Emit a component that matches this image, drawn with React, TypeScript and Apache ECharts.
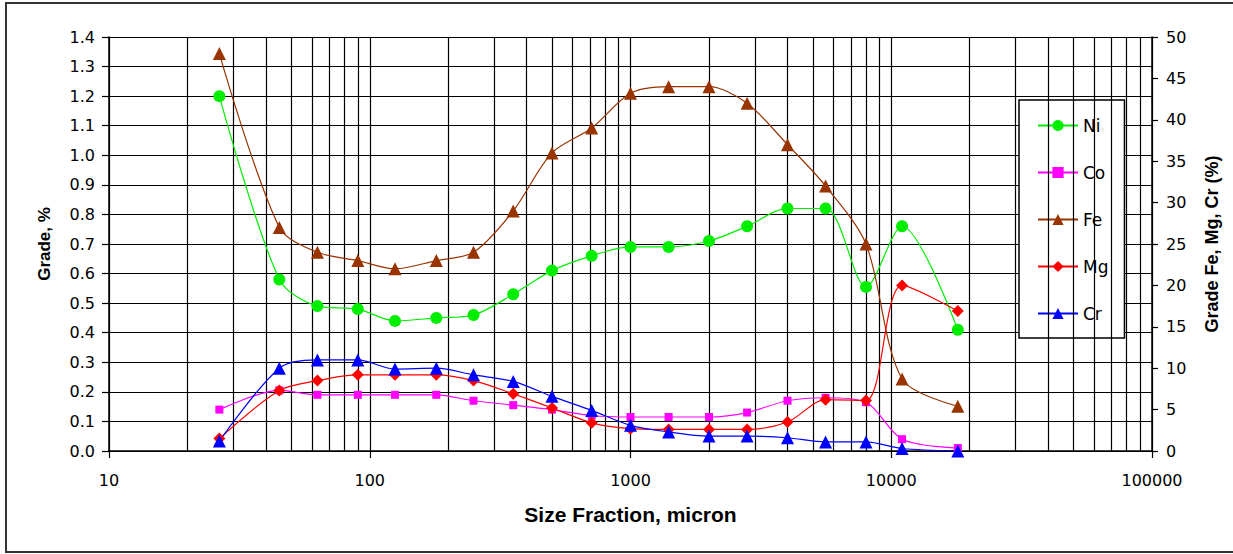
import React, { useEffect, useRef } from "react";
import * as echarts from "echarts";

const sizes = [26.5, 45, 63, 90, 125, 180, 250, 355, 500, 710, 1000, 1400, 2000, 2800, 4000, 5600, 8000, 11000, 18000];
const ni = [1.2, 0.58, 0.49, 0.48, 0.44, 0.45, 0.46, 0.53, 0.61, 0.66, 0.69, 0.69, 0.71, 0.76, 0.82, 0.82, 0.555, 0.76, 0.41];
const co = [0.14, 0.205, 0.19, 0.19, 0.19, 0.19, 0.17, 0.155, 0.14, 0.12, 0.115, 0.115, 0.115, 0.13, 0.17, 0.18, 0.165, 0.04, 0.01];
const fe = [48, 27, 24, 23, 22, 23, 24, 29, 36, 39, 43.2, 44, 44, 42, 37, 32, 25, 8.7, 5.4];
const mg = [1.5, 7.3, 8.5, 9.2, 9.2, 9.2, 8.5, 6.9, 5.2, 3.4, 2.7, 2.6, 2.6, 2.6, 3.5, 6.2, 6.1, 20, 16.9];
const cr = [1.2, 10, 11, 11, 9.9, 10, 9.2, 8.4, 6.6, 4.9, 3.1, 2.3, 1.8, 1.8, 1.6, 1.1, 1.1, 0.3, 0];

const seriesNames = ["Ni", "Co", "Fe", "Mg", "Cr"];
const decades = [10, 100, 1000, 10000];

const FONT = "'Liberation Sans', Arial, sans-serif";
const TICKFONT = "'DejaVu Sans', sans-serif";

export default function App() {
  const ref = useRef<HTMLDivElement>(null);
  useEffect(() => {
    if (!ref.current) return;
    const chart = echarts.init(ref.current, undefined, { renderer: "svg" });
    const pair = (ys: number[]) => sizes.map((x, i) => [x, ys[i]]);
    const minorLines: any[] = [];
    decades.forEach((d) => {
      for (let k = 2; k <= 9; k++) minorLines.push({ xAxis: k * d });
    });
    const mk = (name: string, data: number[], color: string, symbol: string, size: number, yIdx: number) => ({
      name,
      type: "line",
      yAxisIndex: yIdx,
      data: pair(data),
      smooth: 0.3,
      symbol,
      symbolSize: size,
      showSymbol: true,
      lineStyle: { color, width: 1.2 },
      itemStyle: { color, borderColor: color, borderWidth: 0 },
      z: 5,
    });
    const tickLabel = { fontSize: 16, color: "#000", fontFamily: TICKFONT };
    chart.setOption({
      animation: false,
      backgroundColor: "#fff",
      textStyle: { fontFamily: FONT },
      graphic: [
        {
          type: "rect",
          shape: { x: 6, y: 3, width: 1240, height: 549 },
          style: { fill: "none", stroke: "#333", lineWidth: 2 },
          silent: true,
        },
      ],
      grid: { left: 109, right: 81, top: 37, bottom: 103 },
      legend: {
        orient: "vertical",
        left: 1019,
        top: 100,
        data: seriesNames,
        itemWidth: 40,
        itemHeight: 14,
        itemGap: 30,
        padding: [17, 16, 16, 18],
        backgroundColor: "#fff",
        borderColor: "#000",
        borderWidth: 1.5,
        textStyle: { fontSize: 17, color: "#000", fontFamily: TICKFONT },
      },
      xAxis: {
        type: "log",
        logBase: 10,
        min: 10,
        max: 100000,
        name: "Size Fraction, micron",
        nameLocation: "middle",
        nameGap: 53,
        nameTextStyle: { fontSize: 21, fontWeight: "bold", color: "#000", fontFamily: FONT },
        axisLine: { lineStyle: { color: "#000", width: 1.5 } },
        axisTick: { show: true, length: 7, lineStyle: { color: "#000", width: 1.2 } },
        axisLabel: { ...tickLabel, margin: 21, formatter: (v: number) => String(Math.round(v)) },
        splitLine: { show: true, lineStyle: { color: "#000", width: 1.2 } },
      },
      yAxis: [
        {
          type: "value",
          min: 0,
          max: 1.4,
          interval: 0.1,
          name: "Grade, %",
          nameLocation: "middle",
          nameRotate: 90,
          nameGap: 56,
          nameTextStyle: { fontSize: 17, fontWeight: "bold", color: "#000", fontFamily: FONT },
          axisLine: { show: true, lineStyle: { color: "#000", width: 1.5 } },
          axisTick: { show: true, length: 7, lineStyle: { color: "#000", width: 1.2 } },
          axisLabel: { ...tickLabel, margin: 14, formatter: (v: number) => v.toFixed(1) },
          splitLine: { show: true, lineStyle: { color: "#000", width: 1.2 } },
        },
        {
          type: "value",
          min: 0,
          max: 50,
          interval: 5,
          position: "right",
          name: "Grade Fe, Mg, Cr (%)",
          nameLocation: "middle",
          nameRotate: 90,
          nameGap: 51,
          nameTextStyle: { fontSize: 18, fontWeight: "bold", color: "#000", fontFamily: FONT },
          axisLine: { show: true, lineStyle: { color: "#000", width: 1.5 } },
          axisTick: { show: true, length: 6, lineStyle: { color: "#000", width: 1.2 } },
          axisLabel: { ...tickLabel, margin: 14 },
          splitLine: { show: false },
        },
      ],
      series: [
        {
          type: "line",
          data: [],
          silent: true,
          z: 1,
          markLine: {
            silent: true,
            symbol: ["none", "none"],
            label: { show: false },
            lineStyle: { color: "#000", width: 1.2, type: "solid" },
            emphasis: { disabled: true },
            data: minorLines,
          },
        },
        mk("Ni", ni, "#00ee00", "circle", 12, 0),
        mk("Co", co, "#ff00ff", "rect", 8, 0),
        mk("Fe", fe, "#993300", "triangle", 13, 1),
        mk("Mg", mg, "#ff0000", "diamond", 12, 1),
        mk("Cr", cr, "#0000ff", "triangle", 13, 1),
      ],
    });
    return () => chart.dispose();
  }, []);
  return (
    <div
      ref={ref}
      style={{ position: "fixed", left: 0, top: 0, width: 1233, height: 554, background: "#fff" }}
    />
  );
}
